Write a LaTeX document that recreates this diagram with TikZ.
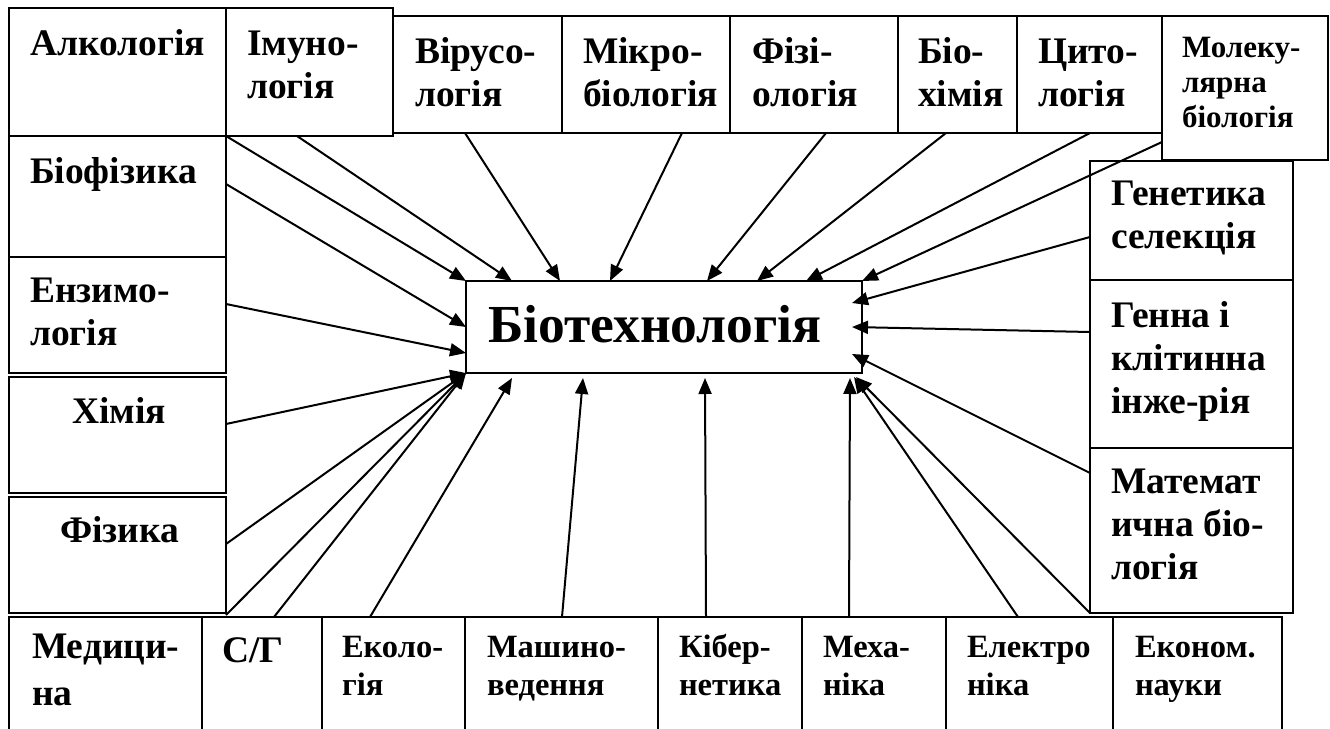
\documentclass[tikz,border=0pt]{standalone}
\usepackage{fontspec}
\setmainfont{Liberation Serif}
\usetikzlibrary{arrows.meta}

% one unit = 1pt, y grows downwards
\tikzset{
  box/.style={draw, line width=2pt, anchor=north west, inner sep=0pt, outer sep=0pt},
  conn/.style={line width=2pt, -{Triangle[length=16pt,width=13pt]}},
  lbl/.style={anchor=base west, inner sep=0pt, outer sep=0pt,
              font=\bfseries\fontsize{37.5}{43}\selectfont},
  lblS/.style={lbl, font=\bfseries\fontsize{32.5}{38}\selectfont},
  lblM/.style={lbl, font=\bfseries\fontsize{31}{35}\selectfont},
  lblC/.style={lbl, font=\bfseries\fontsize{53.5}{60}\selectfont},
}

% box: name, left, top, right, bottom
\newcommand\bx[5]{\node[box, minimum width={#4-#2}, minimum height={#5-#3}] (#1) at (#2,#3) {};}
% text: style, name, base-left point, lines
\newcommand\tx[4]{\node[#1] (#2) at (#3) {\begin{tabular}[t]{@{}l@{}}#4\end{tabular}};}

\begin{document}
\begin{tikzpicture}[x=1pt, y=-1pt]
\useasboundingbox[fill=white] (0,0) rectangle (1330,728);

% top row
\bx{alk}{9}{8}{226}{136}
\bx{imu}{226}{8}{393}{136}
\bx{vir}{393}{16}{562}{133}
\bx{mik}{562}{16}{730}{133}
\bx{fiz}{730}{16}{898}{133}
\bx{bch}{898}{16}{1017}{133}
\bx{cyt}{1017}{16}{1162}{133}
\bx{mol}{1162}{16}{1328}{160}

% left column
\bx{bfz}{9}{136}{226}{257}
\bx{enz}{9}{257}{226}{373}
\bx{khm}{9}{377}{226}{493}
\bx{fzk}{9}{497}{226}{613}

% right column
\bx{gen}{1090}{161}{1293}{280}
\bx{gni}{1090}{280}{1293}{448}
\bx{mat}{1090}{448}{1293}{613}

% bottom row (runs past the lower edge)
\bx{med}{9}{617}{202}{745}
\bx{cg}{202}{617}{322}{745}
\bx{eco}{322}{617}{465}{745}
\bx{msh}{465}{617}{658}{745}
\bx{kib}{658}{617}{802}{745}
\bx{mkh}{802}{617}{946}{745}
\bx{elk}{946}{617}{1113}{745}
\bx{ekn}{1113}{617}{1282}{745}

% centre
\bx{bio}{466}{281}{862}{373}

% labels
\tx{lbl}{alk-t}{30,55}{Алкологія}
\tx{lbl}{imu-t}{247,55}{Імуно-\\логія}
\tx{lbl}{vir-t}{415,63}{Вірусо-\\логія}
\tx{lbl}{mik-t}{583,63}{Мікро-\\біологія}
\tx{lbl}{fiz-t}{752,63}{Фізі-\\ологія}
\tx{lbl}{bch-t}{918,63}{Біо-\\хімія}
\tx{lbl}{cyt-t}{1038,63}{Цито-\\логія}
\tx{lblM}{mol-t}{1182,57}{Молеку-\\лярна\\біологія}

\tx{lbl}{bfz-t}{30,183}{Біофізика}
\tx{lbl}{enz-t}{30,302}{Ензимо-\\логія}
\tx{lbl}{khm-t}{72,423}{Хімія}
\tx{lbl}{fzk-t}{60,542}{Фізика}

\tx{lbl}{gen-t}{1111,205}{Генетика\\селекція}
\tx{lbl}{gni-t}{1111,327}{Генна і\\клітинна\\інже-рія}
\tx{lbl}{mat-t}{1111,493}{Математ\\ична біо-\\логія}

\tx{lbl,font=\bfseries\fontsize{37.5}{47}\selectfont}{med-t}{32,658}{Медици-\\на}
\tx{lbl}{cg-t}{222,662}{С/Г}
\tx{lblS}{eco-t}{342,657}{Еколо-\\гія}
\tx{lblS}{msh-t}{487,657}{Машино-\\ведення}
\tx{lblS}{kib-t}{679,657}{Кібер-\\нетика}
\tx{lblS}{mkh-t}{823,657}{Меха-\\ніка}
\tx{lblS}{elk-t}{967,657}{Електро\\ніка}
\tx{lblS}{ekn-t}{1135,657}{Економ.\\науки}

\tx{lblC}{bio-t}{488,342}{Біотехнологія}

% connectors from the top row
\draw[conn] (alk.south east) -- (bio.north west);
\draw[conn] ([xshift=71pt]imu.south west) -- ([xshift=46pt]bio.north west);
\draw[conn] ([xshift=72pt]vir.south west) -- ([xshift=94pt]bio.north west);
\draw[conn] ([xshift=120pt]mik.south west) -- ([xshift=144pt]bio.north west);
\draw[conn] ([xshift=96pt]fiz.south west) -- ([xshift=241pt]bio.north west);
\draw[conn] ([xshift=48pt]bch.south west) -- ([xshift=291pt]bio.north west);
\draw[conn] ([xshift=73pt]cyt.south west) -- ([xshift=340pt]bio.north west);
\draw[conn] ([yshift=-126pt]mol.north west) -- (bio.north east);

% connectors from the right column
\draw[conn] ([yshift=-76pt]gen.north west) -- ([xshift=-10pt,yshift=24pt]bio.east);
\draw[conn] ([yshift=-52pt]gni.north west) -- ([xshift=-10pt]bio.east);
\draw[conn] ([yshift=-25pt]mat.north west) -- ([xshift=-10pt,yshift=-27pt]bio.east);

% connectors from the left column
\draw[conn] ([yshift=-48pt]bfz.north east) -- (bio.west);
\draw[conn] ([yshift=-47pt]enz.north east) -- ([yshift=-26pt]bio.west);
\draw[conn] ([yshift=-47pt]khm.north east) -- (bio.south west);
\draw[conn] ([yshift=-47pt]fzk.north east) -- (bio.south west);

% connectors from the bottom row
\draw[conn] ([xshift=24pt,yshift=2pt]med.north east) -- (bio.south west);
\draw[conn] ([xshift=72pt]cg.north west) -- (bio.south west);
\draw[conn] ([xshift=48pt]eco.north west) -- ([xshift=46pt,yshift=-5pt]bio.south west);
\draw[conn] ([xshift=97pt]msh.north west) -- ([xshift=117pt,yshift=-5pt]bio.south west);
\draw[conn] ([xshift=48pt]kib.north west) -- ([xshift=239pt,yshift=-5pt]bio.south west);
\draw[conn] ([xshift=47pt]mkh.north west) -- ([xshift=384pt,yshift=-5pt]bio.south west);
\draw[conn] ([xshift=72pt]elk.north west) -- ([xshift=388pt,yshift=-4pt]bio.south west);
\draw[conn] ([xshift=-23pt,yshift=4pt]ekn.north west) -- ([xshift=390pt,yshift=-4pt]bio.south west);
\end{tikzpicture}
\end{document}
